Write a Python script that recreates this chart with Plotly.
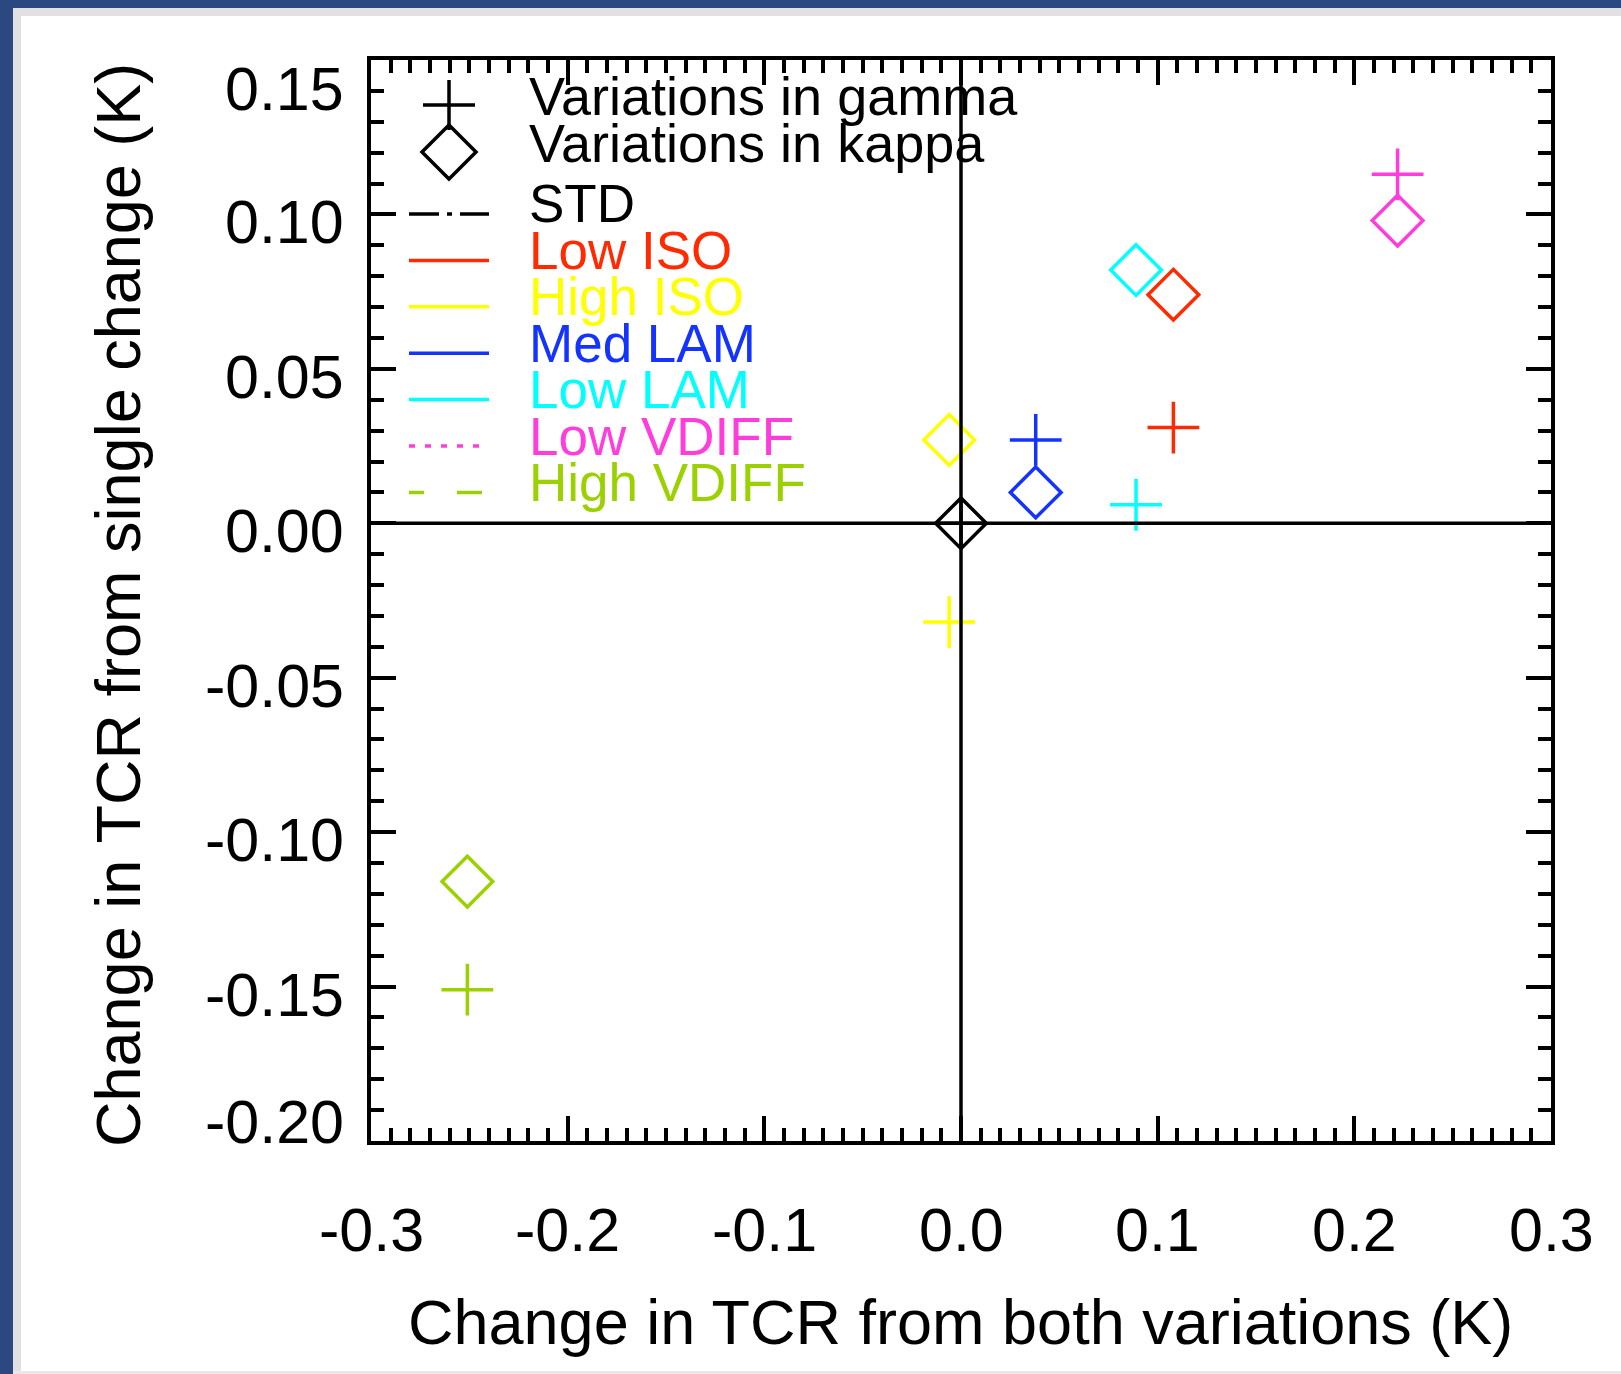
import plotly.graph_objects as go

# ---------------- data ----------------
experiments = ["STD", "Low ISO", "High ISO", "Med LAM", "Low LAM", "Low VDIFF", "High VDIFF"]
colors = ["#000000", "#ff2a00", "#ffff00", "#1433ff", "#00ffff", "#ff3ddc", "#9bd100"]
legend_dash = ["30px,8px,5px,8px", "solid", "solid", "solid", "solid", "6px,10px", "15px,33px,25px,33px"]
both_change = [0.0, 0.108, -0.006, 0.038, 0.089, 0.222, -0.251]
gamma_change = [0.0, 0.031, -0.032, 0.027, 0.006, 0.113, -0.151]
kappa_change = [0.0, 0.074, 0.027, 0.010, 0.082, 0.098, -0.116]

x_tick_vals = [-0.3, -0.2, -0.1, 0.0, 0.1, 0.2, 0.3]
x_tick_text = ["-0.3", "-0.2", "-0.1", "0.0", "0.1", "0.2", "0.3"]
y_tick_vals = [0.15, 0.10, 0.05, 0.0, -0.05, -0.10, -0.15, -0.20]
y_tick_text = ["0.15", "0.10", "0.05", "0.00", "-0.05", "-0.10", "-0.15", "-0.20"]

x_title = "Change in TCR from both variations (K)"
y_title = "Change in TCR from single change (K)"
sym_labels = ["Variations in gamma", "Variations in kappa"]

# ---------------- layout helpers (pixels -> paper) ----------------
FW, FH = 1621, 1374
L, R, T, B = 371, 1551, 60, 1141
W, H = R - L, B - T


def px(x):
    return (x - L) / W


def py(y):
    return (B - y) / H


FONT = "Liberation Sans, Arial, Helvetica, sans-serif"

fig = go.Figure()

fig.add_trace(go.Scatter(
    x=both_change, y=gamma_change, mode="markers", name=sym_labels[0],
    marker=dict(symbol="cross-thin-open", size=37, color=colors,
                line=dict(color=colors, width=3.5)),
    showlegend=False, cliponaxis=False,
))
fig.add_trace(go.Scatter(
    x=both_change, y=kappa_change, mode="markers", name=sym_labels[1],
    marker=dict(symbol="diamond-open", size=39, color=colors,
                line=dict(color=colors, width=3.5)),
    showlegend=False, cliponaxis=False,
))

axis_common = dict(
    showline=True, linewidth=3.5, linecolor="black", mirror="ticks",
    ticks="inside", ticklen=25, tickwidth=3.5, tickcolor="black",
    showticklabels=False, showgrid=False, zeroline=False,
)

fig.update_xaxes(range=[-0.3, 0.3], tick0=0, dtick=0.1,
                 minor=dict(ticks="inside", ticklen=13, tickwidth=3.5, tickcolor="black",
                            dtick=0.01, tick0=0, showgrid=False),
                 **axis_common)
fig.update_yaxes(range=[-0.2, 0.15], tick0=0, dtick=0.05,
                 minor=dict(ticks="inside", ticklen=13, tickwidth=3.5, tickcolor="black",
                            dtick=0.01, tick0=0, showgrid=False),
                 **axis_common)

shapes = []
# background frame: blue strips and grey border
shapes.append(dict(type="rect", xref="paper", yref="paper", x0=px(0), x1=px(13), y0=py(FH), y1=py(0),
                   fillcolor="#2b4880", line=dict(width=0), layer="below"))
shapes.append(dict(type="rect", xref="paper", yref="paper", x0=px(0), x1=px(FW), y0=py(8), y1=py(0),
                   fillcolor="#2b4880", line=dict(width=0), layer="below"))
shapes.append(dict(type="rect", xref="paper", yref="paper", x0=px(13), x1=px(21), y0=py(FH), y1=py(8),
                   fillcolor="#e1e1e1", line=dict(width=0), layer="below"))
shapes.append(dict(type="rect", xref="paper", yref="paper", x0=px(13), x1=px(FW), y0=py(16), y1=py(8),
                   fillcolor="#e1e1e1", line=dict(width=0), layer="below"))
shapes.append(dict(type="rect", xref="paper", yref="paper", x0=px(13), x1=px(FW), y0=py(FH), y1=py(1371),
                   fillcolor="#e8e8e8", line=dict(width=0), layer="below"))

# zero lines drawn above the markers
shapes.append(dict(type="line", xref="paper", yref="y", x0=0, x1=1, y0=0, y1=0,
                   line=dict(color="black", width=3.5), layer="above"))
shapes.append(dict(type="line", xref="x", yref="paper", x0=0, x1=0, y0=0, y1=1,
                   line=dict(color="black", width=3.5), layer="above"))

# legend symbols
cx, cy1, cy2 = 449, 105, 152
shapes.append(dict(type="path", xref="paper", yref="paper",
                   path=f"M{px(cx-26)},{py(cy1)} L{px(cx+26)},{py(cy1)} M{px(cx)},{py(cy1-25)} L{px(cx)},{py(cy1+25)}",
                   line=dict(color="black", width=3.5)))
shapes.append(dict(type="path", xref="paper", yref="paper",
                   path=f"M{px(cx-27)},{py(cy2)} L{px(cx)},{py(cy2-27)} L{px(cx+27)},{py(cy2)} L{px(cx)},{py(cy2+27)} Z",
                   line=dict(color="black", width=3.5)))

annotations = []
sym_text_y = [96, 142.5]
for lab, yy in zip(sym_labels, sym_text_y):
    annotations.append(dict(text=lab, xref="paper", yref="paper", x=px(527), y=py(yy),
                            xanchor="left", yanchor="middle", showarrow=False,
                            font=dict(family=FONT, size=54, color="black")))

line_y0 = 214
text_y0 = 204
step = 46.4
for i, (name, col, dash) in enumerate(zip(experiments, colors, legend_dash)):
    ly = line_y0 + i * step
    x_end = 489 if i != len(experiments) - 1 else 482
    shapes.append(dict(type="line", xref="paper", yref="paper", x0=px(409), x1=px(x_end),
                       y0=py(ly), y1=py(ly), line=dict(color=col, width=3.5, dash=dash)))
    annotations.append(dict(text=name, xref="paper", yref="paper", x=px(527), y=py(text_y0 + i * step),
                            xanchor="left", yanchor="middle", showarrow=False,
                            font=dict(family=FONT, size=53, color=col)))

# tick labels
for v, t in zip(x_tick_vals, x_tick_text):
    annotations.append(dict(text=t, xref="x", yref="paper", x=v, y=py(1229.5),
                            xanchor="center", yanchor="middle", showarrow=False,
                            font=dict(family=FONT, size=61, color="black")))
n_y = len(y_tick_vals)
for i, (v, t) in enumerate(zip(y_tick_vals, y_tick_text)):
    if i == 0:
        shift = -29
    elif i == n_y - 1:
        shift = 19
    else:
        shift = -8
    annotations.append(dict(text=t, xref="paper", yref="y", x=px(346), y=v, yshift=shift,
                            xanchor="right", yanchor="middle", showarrow=False,
                            font=dict(family=FONT, size=61, color="black")))

# axis titles
annotations.append(dict(text=x_title, xref="paper", yref="paper", x=px(960), y=py(1322),
                        xanchor="center", yanchor="middle", showarrow=False,
                        font=dict(family=FONT, size=63, color="black")))
annotations.append(dict(text=y_title, xref="paper", yref="paper", x=px(118), y=py(605),
                        xanchor="center", yanchor="middle", showarrow=False, textangle=-90,
                        font=dict(family=FONT, size=63, color="black")))

fig.update_layout(
    width=FW, height=FH,
    margin=dict(l=L, r=FW - R, t=T, b=FH - B, pad=0),
    paper_bgcolor="white", plot_bgcolor="white",
    shapes=shapes, annotations=annotations,
    showlegend=False,
    font=dict(family=FONT),
)

fig.write_html("out.html")
